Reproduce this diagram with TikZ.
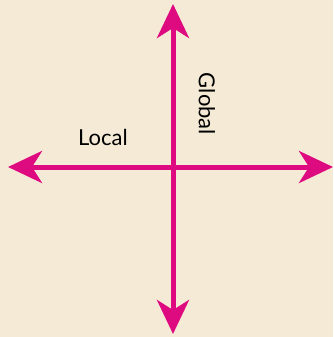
\documentclass[tikz,border=0pt]{standalone}
\usepackage{fontspec}
\setmainfont{Lato}
\usetikzlibrary{arrows.meta}
\definecolor{paper}{HTML}{F5EAD5}
\definecolor{axis}{HTML}{DE0A80}
\tikzset{
  axisline/.style={draw=axis, line width=5pt, {Stealth[length=34pt, width=32pt, inset=10pt]}-{Stealth[length=34pt, width=32pt, inset=10pt]}},
  axislabel/.style={font=\fontsize{22}{26}\selectfont, text=black, inner sep=0pt}
}
\begin{document}
\begin{tikzpicture}[x=1pt,y=-1pt]
    \fill[paper] (0,0) rectangle (333,337);
    \useasboundingbox (0,0) rectangle (333,337);
    \coordinate (top) at (173,4);
    \coordinate (bottom) at (173,334);
    \coordinate (left) at (8,167);
    \coordinate (right) at (333,167);

    \draw[axisline] (left) -- (right);
    \draw[axisline] (top) -- (bottom);

    \node (local) [axislabel] at (103,137) {Local};
    \node (global) [axislabel, rotate=-90] at (207,104) {Global};
\end{tikzpicture}
\end{document}
